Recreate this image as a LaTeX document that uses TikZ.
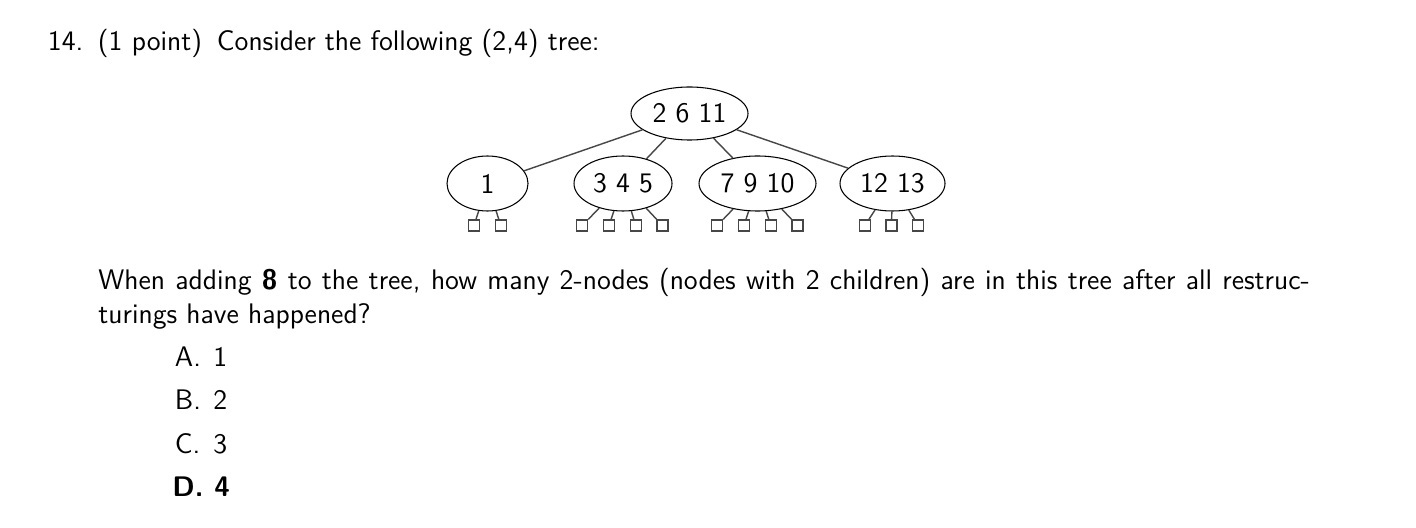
\documentclass[tikz,border=0pt]{standalone}
\usetikzlibrary{shapes.geometric}
\begin{document}
\begin{tikzpicture}[x=0.4244pt,y=-0.4244pt,
  txt/.style={inner sep=0pt,anchor=base west,font=\fontsize{12}{14.5}\selectfont\sffamily},
  ell/.style n args={2}{ellipse,draw=black,line width=0.45pt,inner sep=0pt,
     minimum width={#1*0.4244pt},minimum height={#2*0.4244pt},
     font=\fontsize{12}{14.5}\selectfont\sffamily},
  leaf/.style={rectangle,draw=black!72,line width=0.55pt,inner sep=0pt,minimum size={11*0.4244pt}},
  edge/.style={draw=black!72,line width=0.6pt}]
\useasboundingbox[fill=white] (0,0) rectangle (1416,528);
% title
\node[txt] (num) at (47.5,51) {14.};
\node[txt] (pts) at (97.5,51) {(1 point)};
\node[txt] (ttl) at (216.5,51) {Consider the following (2,4) tree:};
% tree
\node[ell={117}{53}] (r) at (689.5,113.5) {2 6 11};
\node[ell={81}{55}] (a) at (487.5,183.5) {1};
\node[ell={98}{55}] (b) at (623,183.5) {3 4 5};
\node[ell={117}{55}] (c) at (757.5,183.5) {7 9 10};
\node[ell={105}{55}] (d) at (892.5,183.5) {12 13};
\foreach \ch in {a,b,c,d} \draw[edge] (r) -- (\ch);
% leaves
\node[leaf] (a1) at (474,225.5) {};
\node[leaf] (a2) at (500.7,225.5) {};
\node[leaf] (b1) at (582.3,225.5) {};
\node[leaf] (b2) at (609,225.5) {};
\node[leaf] (b3) at (635.7,225.5) {};
\node[leaf] (b4) at (662.4,225.5) {};
\node[leaf] (c1) at (717.3,225.5) {};
\node[leaf] (c2) at (744,225.5) {};
\node[leaf] (c3) at (770.7,225.5) {};
\node[leaf] (c4) at (797.4,225.5) {};
\node[leaf] (d1) at (864.8,225.5) {};
\node[leaf] (d2) at (891.5,225.5) {};
\node[leaf] (d3) at (918.2,225.5) {};
\foreach \l in {a1,a2} \draw[edge] (a) -- (\l);
\foreach \l in {b1,b2,b3,b4} \draw[edge] (b) -- (\l);
\foreach \l in {c1,c2,c3,c4} \draw[edge] (c) -- (\l);
\foreach \l in {d1,d2,d3} \draw[edge] (d) -- (\l);
% question
\node[txt] (q1) at (98,289) {\makebox[514.1pt][s]{When adding \textbf{8} to the tree, how many 2-nodes (nodes with 2 children) are in this tree after all restruc-}};
\node[txt] (q2) at (98,323.3) {turings have happened?};
% options
\node[txt] (la) at (174.5,366) {A.};
\node[txt] (ia) at (213,366) {1};
\node[txt] (lb) at (174.5,409.5) {B.};
\node[txt] (ib) at (213,409.5) {2};
\node[txt] (lc) at (174.5,453) {C.};
\node[txt] (ic) at (213,453) {3};
\node[txt] (ld) at (172,496) {\textbf{D.}};
\node[txt] (id) at (214,496) {\textbf{4}};
\end{tikzpicture}
\end{document}
